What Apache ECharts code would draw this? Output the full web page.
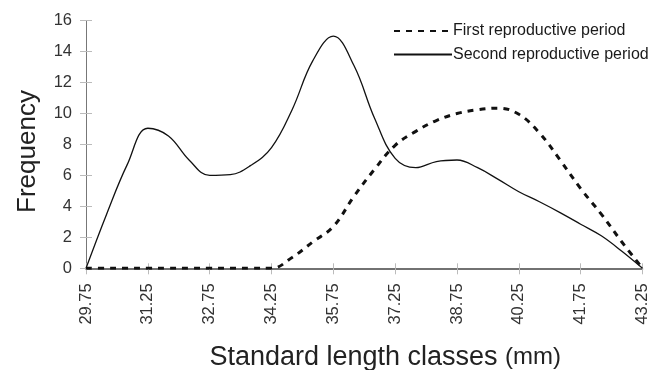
<!DOCTYPE html>
<html>
<head>
<meta charset="utf-8">
<script src="https://cdn.jsdelivr.net/npm/echarts@6/dist/echarts.min.js"></script>
<style>html,body{margin:0;padding:0;background:#fff}#c{width:657px;height:370px}</style>
</head>
<body>
<div id="c"></div>
<script>
var categories = ['29.75','30.25','30.75','31.25','31.75','32.25','32.75','33.25','33.75','34.25','34.75','35.25','35.75','36.25','36.75','37.25','37.75','38.25','38.75','39.25','39.75','40.25','40.75','41.25','41.75','42.25','42.75','43.25'];
var firstPeriod = [0,0,0,0,0,0,0,0,0,0,0.7,1.7,2.7,4.65,6.4,7.95,8.85,9.55,10.0,10.25,10.35,9.95,8.75,7.0,5.15,3.5,1.7,0];
var secondPeriod = [0,3.5,6.7,9.05,8.55,7.0,6.0,6.05,6.65,7.8,10.25,13.4,15.0,13.1,9.7,7.1,6.5,6.9,7.0,6.5,5.75,4.95,4.3,3.6,2.85,2.1,1.1,0];
var yTicks = {min: 0, max: 16, interval: 2};

var chart = echarts.init(document.getElementById('c'));
var font = 'Liberation Sans, Arial, sans-serif';
var tickColor = '#bbb';
chart.setOption({
  animation: false,
  textStyle: {fontFamily: font},
  grid: {left: 86, right: 14.5, top: 20.7, bottom: 101.7, outerBoundsMode: 'none', containLabel: false},
  legend: {
    orient: 'vertical', left: 388, top: 18, itemWidth: 58, itemHeight: 14, itemGap: 7.5,
    itemStyle: {opacity: 0},
    textStyle: {fontSize: 16, color: '#1a1a1a', fontFamily: font, padding: [0,0,0,-4]},
    data: ['First reproductive period', 'Second reproductive period']
  },
  xAxis: [{
    type: 'category', data: categories, boundaryGap: false,
    axisLine: {lineStyle: {color: '#444', width: 1.5}},
    axisTick: {interval: 2, length: 6, lineStyle: {color: tickColor}},
    axisLabel: {interval: 2, rotate: 90, margin: 15, fontSize: 16.5, color: '#333', fontFamily: font},
    name: '{a|Standard length classes }{b|(mm)}', nameLocation: 'middle', nameGap: 76,
    nameTextStyle: {padding: [0,0,0,42], rich: {a: {fontSize: 27, color: '#222', fontFamily: font}, b: {fontSize: 24, color: '#222', fontFamily: font}}}
  }, {
    type: 'category', data: categories, boundaryGap: false, position: 'bottom',
    axisLine: {show: false},
    axisTick: {show: true, inside: true, interval: 2, length: 5, lineStyle: {color: tickColor}},
    axisLabel: {show: false}
  }],
  yAxis: [{
    type: 'value', min: yTicks.min, max: yTicks.max, interval: yTicks.interval,
    splitLine: {show: false},
    axisLine: {show: true, lineStyle: {color: '#777', width: 1}},
    axisTick: {show: true, inside: true, length: 6, lineStyle: {color: tickColor}},
    axisLabel: {margin: 14, fontSize: 16.5, color: '#333', fontFamily: font},
    name: 'Frequency', nameLocation: 'middle', nameGap: 45, nameRotate: 90,
    nameTextStyle: {fontSize: 26, color: '#222', fontFamily: font, padding: [0,14,0,0]}
  }, {
    type: 'value', min: yTicks.min, max: yTicks.max, interval: yTicks.interval, position: 'left',
    splitLine: {show: false},
    axisLine: {show: false},
    axisTick: {show: true, inside: false, length: 6, lineStyle: {color: tickColor}},
    axisLabel: {show: false}
  }],
  series: [
    {name: 'First reproductive period', type: 'line', data: firstPeriod, smooth: 0.4, symbol: 'none',
     lineStyle: {color: '#111', width: 3, type: [6,6]}, itemStyle: {color: '#111'}},
    {name: 'Second reproductive period', type: 'line', data: secondPeriod, smooth: 0.4, symbol: 'none',
     lineStyle: {color: '#111', width: 1.3, type: 'solid'}, itemStyle: {color: '#111'}}
  ]
});
</script>
</body>
</html>
